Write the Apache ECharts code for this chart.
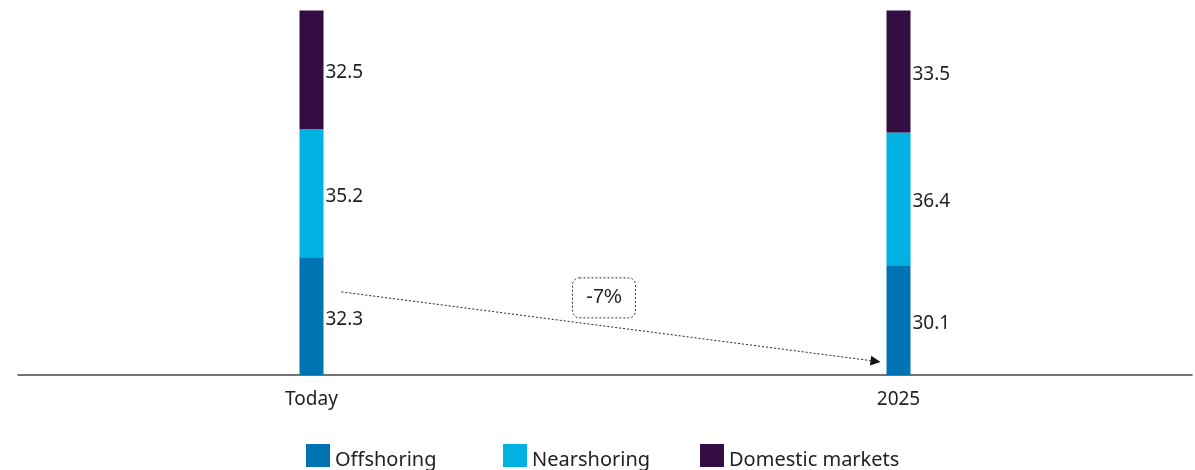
<!DOCTYPE html>
<html>
<head>
<meta charset="utf-8">
<script src="https://cdn.jsdelivr.net/npm/echarts@6/dist/echarts.min.js"></script>
<style>html,body{margin:0;padding:0;background:#fff}#c{width:1195px;height:470px}</style>
</head>
<body>
<div id="c"></div>
<script>
const categories = ['Today', '2025'];
const offshoring = [32.3, 30.1];
const nearshoring = [35.2, 36.4];
const domestic = [32.5, 33.5];
const seriesNames = ['Offshoring', 'Nearshoring', 'Domestic markets'];
const changeLabel = '-7%';
// arrow endpoints in data space: [category, value]
const arrowFrom = ['Today', 22.8];
const arrowTo = ['2025', 3.6];

const FONT = '"Noto Sans", "Open Sans", sans-serif';
const colors = ['#0073b3', '#00b1e2', '#350d45'];
const chart = echarts.init(document.getElementById('c'));

function mk(name, data, color) {
  return {
    name, type: 'bar', stack: 'total', data, barWidth: 24,
    itemStyle: { color },
    label: { show: true, position: 'right', distance: 2, color: '#222', fontSize: 19, fontFamily: FONT, offset: [0, 3] },
    emphasis: { disabled: true }
  };
}

const legendStep = 197;
const legends = seriesNames.map((n, i) => ({
  data: [n], left: 301 + i * legendStep, top: 439, itemWidth: 24, itemHeight: 23, itemGap: 6,
  icon: 'rect',
  formatter: '{a|{name}}',
  textStyle: {
    fontSize: 20, fontFamily: FONT, color: '#222',
    rich: { a: { fontSize: 20, fontFamily: FONT, color: '#222', padding: [9, 0, 0, 0] } }
  }
}));

chart.setOption({
  animation: false,
  grid: { left: 18, right: 3, top: 10.5, bottom: 95 },
  xAxis: {
    type: 'category', data: categories,
    axisLine: { lineStyle: { color: '#444', width: 1.5 } },
    axisTick: { show: false },
    axisLabel: { color: '#222', fontSize: 19, fontFamily: FONT, margin: 15 }
  },
  yAxis: { type: 'value', min: 0, max: 100, show: false, splitLine: { show: false } },
  legend: legends,
  series: [mk(seriesNames[0], offshoring, colors[0]), mk(seriesNames[1], nearshoring, colors[1]), mk(seriesNames[2], domestic, colors[2])]
});

function drawArrow() {
  const p1 = chart.convertToPixel({ gridIndex: 0 }, arrowFrom);
  const p2 = chart.convertToPixel({ gridIndex: 0 }, arrowTo);
  const x1 = p1[0] + 30, y1 = p1[1];
  const x2 = p2[0] - 18, y2 = p2[1];
  const ang = Math.atan2(y2 - y1, x2 - x1);
  const L = 10, W = 5;
  const bx = x2 - L * Math.cos(ang), by = y2 - L * Math.sin(ang);
  const head = [
    [x2, y2],
    [bx - W * Math.sin(ang), by + W * Math.cos(ang)],
    [bx + W * Math.sin(ang), by - W * Math.cos(ang)]
  ];
  const mx = (x1 + x2) / 2, my = (y1 + y2) / 2;
  const bw = 63, bh = 40;
  const cx = mx - 7, cy = my - 29;
  chart.setOption({
    graphic: [
      { type: 'line', shape: { x1, y1, x2: bx, y2: by }, style: { stroke: '#222', lineWidth: 1, lineDash: [2, 2] }, silent: true },
      { type: 'polygon', shape: { points: head }, style: { fill: '#111' }, silent: true },
      { type: 'rect', shape: { x: cx - bw / 2, y: cy - bh / 2, width: bw, height: bh, r: 7 },
        style: { fill: '#fff', stroke: '#333', lineWidth: 1, lineDash: [2, 2] }, silent: true },
      {
        type: 'text', x: cx, y: cy, silent: true,
        style: {
          text: changeLabel, fontSize: 20, fontFamily: '"Liberation Sans", Arial, sans-serif', fill: '#222',
          align: 'center', verticalAlign: 'middle'
        }
      }
    ]
  });
}
drawArrow();
</script>
</body>
</html>
